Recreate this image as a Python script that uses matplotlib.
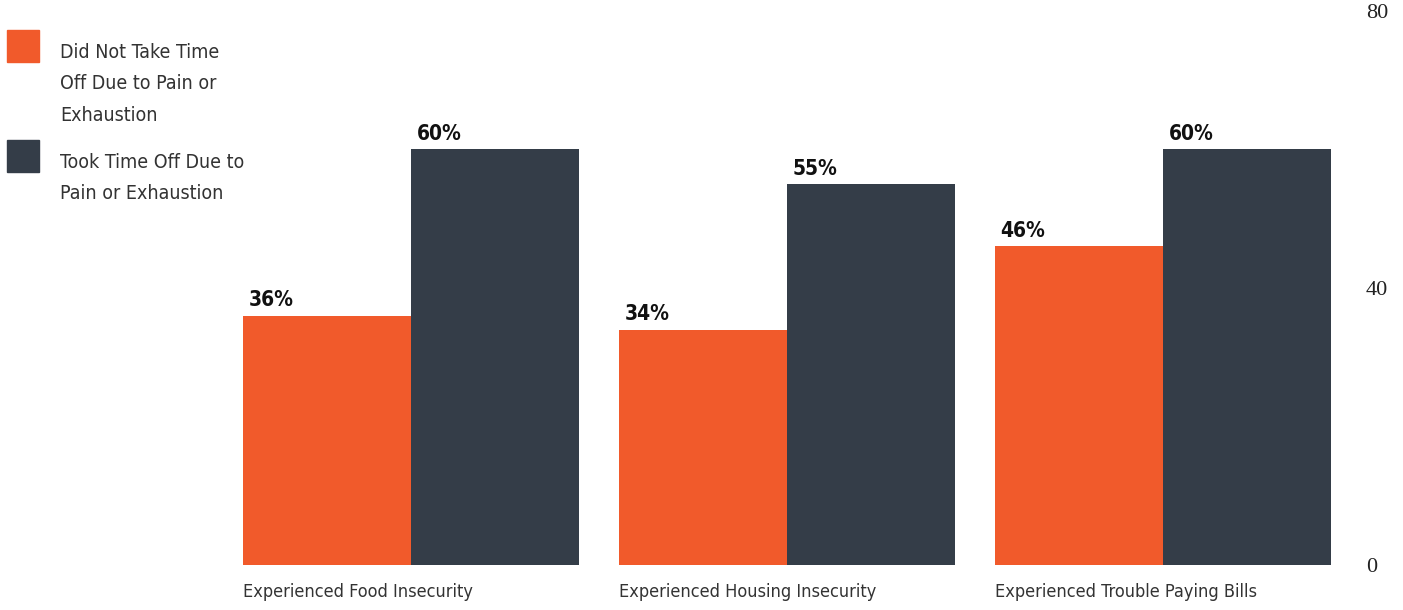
import numpy as np
import matplotlib.pyplot as plt
from matplotlib.patches import Rectangle

categories = ['Experienced Food Insecurity', 'Experienced Housing Insecurity',
              'Experienced Trouble Paying Bills']
no_time_off = [36, 34, 46]
took_time_off = [60, 55, 60]
series_names = ['Did Not Take Time\nOff Due to Pain or\nExhaustion',
                'Took Time Off Due to\nPain or Exhaustion']
y_ticks = [0, 40, 80]

orange = '#F15A2B'
dark = '#343D48'
narrow = dict(family='DejaVu Sans', fontstretch='condensed')

W, H = 1403, 610
fig = plt.figure(figsize=(W / 100, H / 100), dpi=100)
ax = fig.add_axes([243 / W, 1 - 565 / H, 1088 / W, (565 - 11) / H])

x = np.arange(len(categories))
barWidth = 0.447
r1 = ax.bar(x - barWidth / 2, no_time_off, width=barWidth, color=orange)
r2 = ax.bar(x + barWidth / 2, took_time_off, width=barWidth, color=dark)

for rects, vals in [(r1, no_time_off), (r2, took_time_off)]:
    for r, v in zip(rects, vals):
        ax.annotate(f'{v}%', (r.get_x(), r.get_height()), xytext=(4, 4),
                    textcoords='offset points', ha='left', va='bottom',
                    fontsize=15, fontweight='bold', color='#111111', **narrow)

ax.set_xlim(-barWidth, len(categories) - 1 + barWidth)
ax.set_ylim(0, 80)
ax.set_xticks(x - barWidth)
ax.set_xticklabels(categories, ha='left', fontsize=13, color='#333333', **narrow)
ax.tick_params(axis='x', length=0, pad=13)
ax.yaxis.tick_right()
ax.set_yticks(y_ticks)
ax.set_yticklabels([str(t) for t in y_ticks], fontsize=16, family='Liberation Serif',
                   color='#222222')
ax.tick_params(axis='y', length=0, pad=25)
for s in ax.spines.values():
    s.set_visible(False)

# legend drawn by hand
for i, (name, col) in enumerate(zip(series_names, [orange, dark])):
    top = [30, 140][i]
    fig.add_artist(Rectangle((7 / W, 1 - (top + 32) / H), 32 / W, 32 / H,
                             transform=fig.transFigure, color=col))
    fig.text(60 / W, 1 - (top + 13) / H, name, ha='left', va='top', fontsize=14,
             color='#333333', linespacing=1.83, **narrow)

fig.savefig('out.png', dpi=100)
